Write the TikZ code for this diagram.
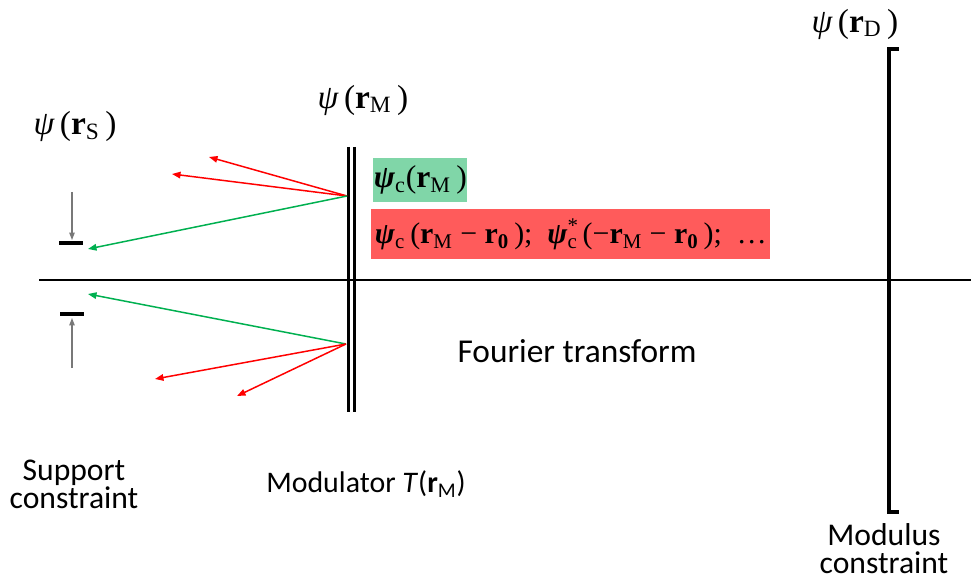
\documentclass[tikz,border=0pt]{standalone}
\usepackage{fontspec}
\setmainfont{Carlito}
\newfontfamily\tms{Liberation Serif}
\usetikzlibrary{arrows.meta,positioning}
\definecolor{raygreen}{RGB}{0,176,80}
\definecolor{rayred}{RGB}{255,0,0}
\definecolor{boxgreen}{RGB}{128,214,168}
\definecolor{boxred}{RGB}{255,91,91}
\definecolor{markgray}{RGB}{120,120,120}
\newcommand{\wf}[1]{{\tms\itshape ψ}{\tms\,(\textbf{r}\textsubscript{#1}\,)}}
\newcommand{\rg}[1]{{\mdseries #1}}
\tikzset{
  redray/.style={-{Triangle[length=1.7mm,width=1.3mm]}, rayred, line width=0.85pt},
  greenray/.style={-{Triangle[length=1.7mm,width=1.3mm]}, raygreen, line width=0.85pt},
  markarr/.style={-{Triangle[length=1.5mm,width=1.1mm]}, markgray, line width=0.6pt},
  wflabel/.style={inner sep=0pt, font=\fontsize{19}{21}\selectfont},
  wfbox/.style={anchor=north west, inner sep=0pt, font=\tms\bfseries\fontsize{17}{20}\selectfont},
  caption/.style={inner sep=0pt, align=center, font=\fontsize{18}{16}\selectfont},
}

\begin{document}
\begin{tikzpicture}[x=0.02cm, y=-0.02cm]
  \useasboundingbox (0,0) rectangle (971,581);
  \coordinate (axL) at (39,280);
  \coordinate (axR) at (971,280);
  \draw[line width=0.9pt] (axL) -- (axR);
  \draw[line width=1.7pt] (348.7,147) -- (348.7,412);
  \draw[line width=1.7pt] (354.3,147) -- (354.3,412);
  \draw[line width=1.8pt] (899,49) -- (889,49) -- (889,512) -- (899,512);
  \draw[line width=2.4pt] (59,243) -- (83,243);
  \draw[line width=2.4pt] (60,314) -- (84,314);
  \coordinate (topfrom) at (72,192);
  \coordinate (topto) at (72,240);
  \coordinate (botfrom) at (72,368);
  \coordinate (botto) at (72,318);
  \draw[markarr] (topfrom) -- (topto);
  \draw[markarr] (botfrom) -- (botto);

  \coordinate (srcU) at (347,196);
  \coordinate (srcL) at (346,344);
  \coordinate (u1) at (209,157);
  \coordinate (u2) at (172,174);
  \coordinate (u3) at (88,249);
  \coordinate (l1) at (88,294);
  \coordinate (l2) at (155,379);
  \coordinate (l3) at (237,396);
  \draw[redray] (srcU) -- (u1);
  \draw[redray] (srcU) -- (u2);
  \draw[greenray] (srcU) -- (u3);
  \draw[greenray] (srcL) -- (l1);
  \draw[redray] (srcL) -- (l2);
  \draw[redray] (srcL) -- (l3);

  \node[wflabel] (psiS) at (75,126) {\wf{S}};
  \node[wflabel] (psiM) at (363,100) {\wf{M}};
  \node[wflabel] (psiD) at (855,24) {\wf{D}};
  \node[wfbox, fill=boxgreen, minimum width=1.88cm, minimum height=0.88cm, font=\tms\bfseries\fontsize{18}{20}\selectfont] (wfc) at (373,158)
    {\textit{ψ}\textsubscript{\mdseries c}\rg{(}r\textsubscript{\mdseries M}\,\rg{)}};
  \node[wfbox, fill=boxred, minimum width=7.98cm, minimum height=1cm] (wfshift) at (371,209)
    {\textit{ψ}\textsubscript{\mdseries c}\,\rg{(}r\textsubscript{\mdseries M} \rg{−} r\textsubscript{0}\,\rg{);}\enspace
     \textit{ψ}\rlap{\textsuperscript{\mdseries *}}\textsubscript{\mdseries c}\,\rg{(−}r\textsubscript{\mdseries M} \rg{−} r\textsubscript{0}\,\rg{);}\enspace\rg{…}};

  \node[caption, font=\fontsize{19}{16}\selectfont] (fourier) at (577,351) {Fourier transform};
  \node[caption] (support) at (74,484) {Support\\constraint};
  \node[caption, font=\fontsize{17}{16}\selectfont] (modulator) at (366,484) {Modulator \textit{T}(\textbf{r}\textsubscript{M})};
  \node[caption] (modulus) at (884,549) {Modulus\\constraint};
\end{tikzpicture}
\end{document}
